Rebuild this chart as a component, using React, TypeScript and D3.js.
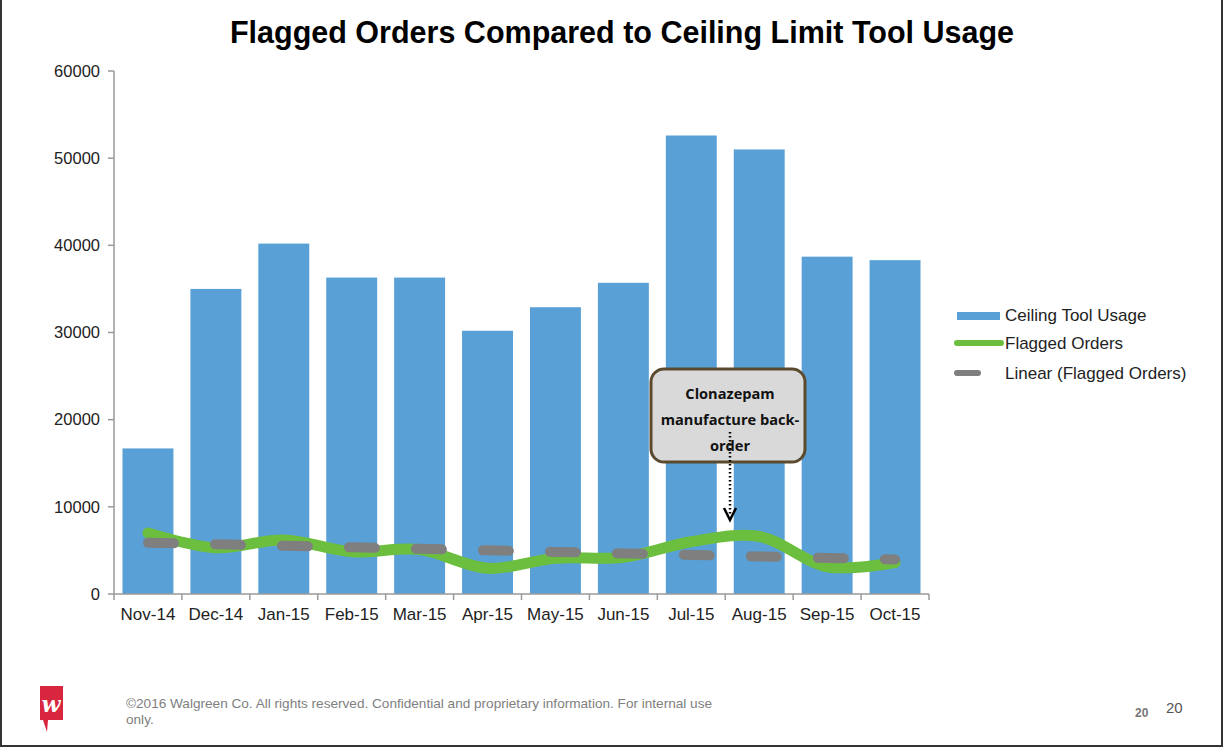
import React from "react";
import * as d3 from "d3";

const months = ["Nov-14","Dec-14","Jan-15","Feb-15","Mar-15","Apr-15","May-15","Jun-15","Jul-15","Aug-15","Sep-15","Oct-15"];
const ceilingUsage = [16700,35000,40200,36300,36300,30200,32900,35700,52600,51000,38700,38300];
const flaggedOrders = [7000,5300,6200,4850,5100,2950,4100,4200,6000,6600,3130,3600];
const yTicks = [0,10000,20000,30000,40000,50000,60000];
const legendLabels = ["Ceiling Tool Usage","Flagged Orders","Linear (Flagged Orders)"];
const calloutLines = ["Clonazepam","manufacture back-","order"];

const W = 1225, H = 753;
const left = 114, right = 929, top = 71, bottom = 594;
const BLUE = "#58a0d6", GREEN = "#6cbf3e", GRAY = "#7f7f7f";

export default function App() {
  const x = d3.scaleBand<string>().domain(months).range([left, right]).paddingInner(0.25).paddingOuter(0.125);
  const xb = d3.scaleBand<string>().domain(months).range([left, right]);
  const y = d3.scaleLinear().domain([0, 60000]).range([bottom, top]);
  const cx = (m: string) => (xb(m) as number) + xb.bandwidth() / 2;

  const line = d3.line<number>().x((_, i) => cx(months[i])).y(v => y(v)).curve(d3.curveCatmullRom.alpha(0.5));

  // linear regression trend
  const n = flaggedOrders.length;
  const mx = d3.mean(d3.range(n)) as number;
  const my = d3.mean(flaggedOrders) as number;
  const slope = d3.sum(flaggedOrders.map((v, i) => (i - mx) * (v - my))) / d3.sum(d3.range(n).map(i => (i - mx) ** 2));
  const trend = d3.range(n).map(i => my + slope * (i - mx));
  const trendLine = d3.line<number>().x((_, i) => cx(months[i])).y(v => y(v));

  const arrowX = 730;

  return (
    <svg width={W} height={H} style={{ position: "absolute", left: 0, top: 0, background: "#fff" }} fontFamily="'Liberation Sans', Arial, sans-serif">
      <rect x={0} y={0} width={W} height={H} fill="#fff" />
      {/* frame */}
      <path d={`M1,0 V746 H1222 V0`} fill="none" stroke="#333" strokeWidth={2} />

      <text x={622} y={43} textAnchor="middle" fontSize={30.5} fontWeight="bold" fill="#000">Flagged Orders Compared to Ceiling Limit Tool Usage</text>

      {/* bars */}
      {months.map((m, i) => (
        <rect key={m} x={x(m)} y={y(ceilingUsage[i])} width={x.bandwidth()} height={bottom - y(ceilingUsage[i])} fill={BLUE} />
      ))}

      {/* y axis */}
      <line x1={left} x2={left} y1={top} y2={bottom} stroke="#9a9a9a" strokeWidth={1.5} />
      {yTicks.map(t => (
        <g key={t}>
          <line x1={left - 6} x2={left} y1={y(t)} y2={y(t)} stroke="#9a9a9a" strokeWidth={1.5} />
          <text x={100} y={y(t)} dy="0.35em" textAnchor="end" fontSize={16.5} fill="#222">{t}</text>
        </g>
      ))}
      {/* x axis */}
      <line x1={left} x2={right} y1={bottom} y2={bottom} stroke="#9a9a9a" strokeWidth={1.5} />
      {months.map(m => (
        <line key={m} x1={xb(m)} x2={xb(m)} y1={bottom} y2={bottom + 6} stroke="#9a9a9a" strokeWidth={1.5} />
      ))}
      <line x1={right} x2={right} y1={bottom} y2={bottom + 6} stroke="#9a9a9a" strokeWidth={1.5} />
      {months.map(m => (
        <text key={m} x={cx(m)} y={620} textAnchor="middle" fontSize={17} fill="#222">{m}</text>
      ))}

      {/* flagged line */}
      <path d={line(flaggedOrders) as string} fill="none" stroke={GREEN} strokeWidth={11} strokeLinecap="round" />
      {/* trend */}
      <path d={trendLine(trend) as string} fill="none" stroke={GRAY} strokeWidth={10} strokeLinecap="round" strokeDasharray="26 41" />

      {/* legend */}
      <rect x={957} y={312} width={43} height={8} fill={BLUE} />
      <text x={1005} y={315} dy="0.35em" fontSize={17} fill="#222">{legendLabels[0]}</text>
      <line x1={957} x2={1001} y1={343} y2={343} stroke={GREEN} strokeWidth={6} strokeLinecap="round" />
      <text x={1005} y={343} dy="0.35em" fontSize={17} fill="#222">{legendLabels[1]}</text>
      <line x1={957} x2={978} y1={373} y2={373} stroke={GRAY} strokeWidth={6} strokeLinecap="round" />
      <text x={1005} y={373} dy="0.35em" fontSize={17} fill="#222">{legendLabels[2]}</text>

      {/* callout */}
      <rect x={651} y={369} width={154} height={93} rx={13} fill="#d9d9d9" stroke="#5c4a2e" strokeWidth={3} />
      {calloutLines.map((s, i) => (
        <text key={i} x={730} y={399 + i * 26} textAnchor="middle" fontSize={14.6} fontWeight="bold" fill="#111" fontFamily="'Open Sans', sans-serif">{s}</text>
      ))}
      <line x1={arrowX} x2={arrowX} y1={432} y2={516} stroke="#000" strokeWidth={2.5} strokeDasharray="1.5 2.5" />
      <path d={`M${arrowX - 6},${508} L${arrowX},${520} L${arrowX + 6},${508}`} fill="none" stroke="#000" strokeWidth={2.5} />

      {/* footer */}
      <path d="M40,686 H63 V720 H48 L47,732 L43,720 H40 Z" fill="#d7263d" />
      <text x={51} y={712} textAnchor="middle" fontSize={22} fontStyle="italic" fontWeight="bold" fill="#fff" fontFamily="'DejaVu Serif', serif">w</text>
      <text x={126} y={708} fontSize={13.6} fill="#808080">©2016 Walgreen Co. All rights reserved. Confidential and proprietary information. For internal use</text>
      <text x={126} y={724} fontSize={13.6} fill="#808080">only.</text>
      <text x={1135} y={717} fontSize={12} fontWeight="bold" fill="#777">20</text>
      <text x={1166} y={713} fontSize={15} fill="#555">20</text>
    </svg>
  );
}
